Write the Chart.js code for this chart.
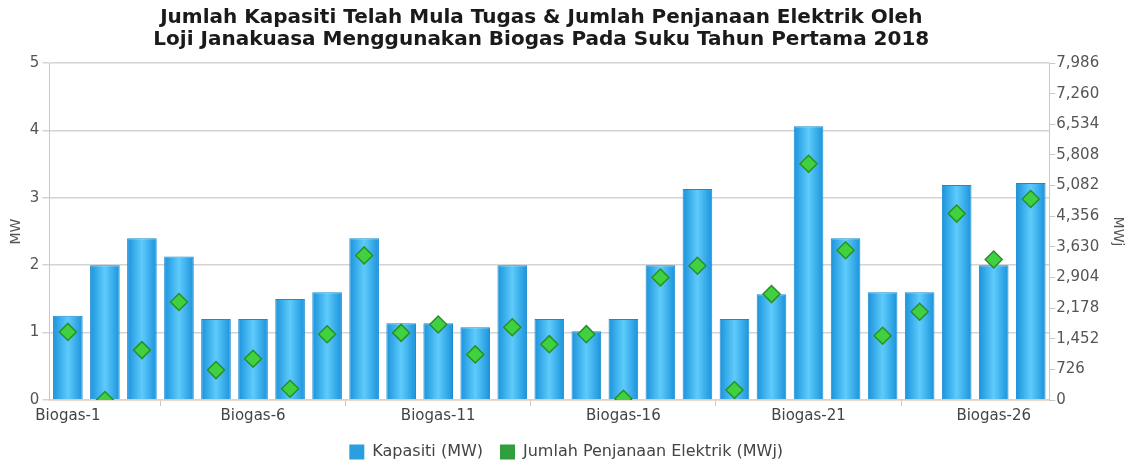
<!DOCTYPE html>
<html>
<head>
<meta charset="utf-8">
<script src="https://cdn.jsdelivr.net/npm/chart.js@4/dist/chart.umd.min.js"></script>
<style>
html,body{margin:0;padding:0;background:#fff;}
#wrap{width:1125px;height:462px;position:relative;}
</style>
</head>
<body>
<div id="wrap"><canvas id="c" width="1125" height="462"></canvas></div>
<script>
const categories = Array.from({length:27},(_,i)=>'Biogas-'+(i+1));
const kapasitiMW = [1.25,2.0,2.4,2.13,1.2,1.2,1.5,1.6,2.4,1.14,1.14,1.08,2.0,1.2,1.02,1.2,2.0,3.13,1.2,1.57,4.06,2.4,1.6,1.6,3.19,2.0,3.22];
const penjanaanMWj = [1613,0,1182,2322,709,976,268,1559,3426,1590,1788,1080,1725,1323,1560,30,2902,3180,238,2510,5600,3548,1522,2090,4418,3329,4762];
const leftTicks = [0,1,2,3,4,5];
const rightTicks = [0,726,1452,2178,2904,3630,4356,5082,5808,6534,7260,7986];
const titleLines = ['Jumlah Kapasiti Telah Mula Tugas & Jumlah Penjanaan Elektrik Oleh','Loji Janakuasa Menggunakan Biogas Pada Suku Tahun Pertama 2018'];

const FONT = "'DejaVu Sans', Verdana, sans-serif";

function barGradient(ctx){
  const chart = ctx.chart;
  const xs = chart.scales && chart.scales.x;
  if(!xs || ctx.dataIndex == null) return '#29a6ea';
  const cx = xs.getPixelForValue(ctx.dataIndex);
  const w = (xs.width / categories.length) * 0.8;
  const g = chart.ctx.createLinearGradient(cx - w/2, 0, cx + w/2, 0);
  g.addColorStop(0, '#1a93dc');
  g.addColorStop(0.5, '#5ecbfb');
  g.addColorStop(1, '#1a93dc');
  return g;
}

const shiftTitle = {
  id: 'shiftTitle',
  afterLayout(chart){
    const t = chart.titleBlock;
    if (t) { t.left -= 8; t.right -= 8; }
  }
};

new Chart(document.getElementById('c'), {
  plugins: [shiftTitle],
  data: {
    labels: categories,
    datasets: [
      {
        type: 'line',
        label: 'Jumlah Penjanaan Elektrik (MWj)',
        data: penjanaanMWj,
        yAxisID: 'y1',
        showLine: false,
        pointStyle: 'rectRot',
        pointRadius: 8.5,
        pointBackgroundColor: '#3fd13f',
        pointBorderColor: '#2a8f2a',
        pointBorderWidth: 1.5,
        backgroundColor: '#2e9e3e',
        borderColor: '#2e9e3e',
        order: 0
      },
      {
        type: 'bar',
        label: 'Kapasiti (MW)',
        data: kapasitiMW,
        yAxisID: 'y',
        backgroundColor: barGradient,
        borderColor: '#1a8ad0',
        borderWidth: 1,
        barPercentage: 0.8,
        categoryPercentage: 1.0,
        order: 1
      }
    ]
  },
  options: {
    responsive: false,
    animation: false,
    layout: { padding: { left: 6, right: -1.4, top: 0, bottom: -8 } },
    plugins: {
      title: {
        display: true,
        fullSize: false,
        text: titleLines,
        color: '#1a1a1a',
        font: { family: FONT, size: 20, weight: 'bold', lineHeight: 1.1 },
        padding: { top: 7, bottom: 12 }
      },
      legend: {
        position: 'bottom',
        labels: {
          color: '#444',
          font: { family: FONT, size: 16 },
          boxWidth: 15,
          boxHeight: 15,
          padding: 17,
          generateLabels(chart){
            return [
              {text:'Kapasiti (MW)', fillStyle:'#2a9fe0', strokeStyle:'#2a9fe0', lineWidth:0, datasetIndex:1, fontColor:'#444'},
              {text:'Jumlah Penjanaan Elektrik (MWj)', fillStyle:'#2e9e3e', strokeStyle:'#2e9e3e', lineWidth:0, datasetIndex:0, fontColor:'#444'}
            ];
          }
        }
      },
      tooltip: { enabled: false }
    },
    scales: {
      x: {
        offset: true,
        afterFit: (s) => { s.height = 27; },
        grid: {
          offset: true,
          drawOnChartArea: false,
          drawTicks: true,
          tickLength: 6,
          color: (c) => (c.index % 5 === 3 ? '#c8c8c8' : 'rgba(0,0,0,0)')
        },
        border: { display: true, color: '#f0d8c8' },
        ticks: {
          autoSkip: false,
          maxRotation: 0,
          color: '#444',
          font: { family: FONT, size: 15 },
          padding: 1,
          callback: (v, i) => (i % 5 === 0 ? categories[i] : '')
        }
      },
      y: {
        position: 'left',
        min: 0,
        max: 5,
        afterBuildTicks: (s) => { s.ticks = leftTicks.map(v => ({value: v})); },
        grid: { color: '#d4d4d4', lineWidth: 1.5, tickLength: 7 },
        border: { color: '#c8c8c8' },
        ticks: { color: '#555', font: { family: FONT, size: 15 }, padding: 3 },
        title: { display: true, text: 'MW', color: '#555', font: { family: FONT, size: 14 }, padding: 2 }
      },
      y1: {
        position: 'right',
        min: 0,
        max: 7986,
        afterBuildTicks: (s) => { s.ticks = rightTicks.map(v => ({value: v})); },
        grid: { drawOnChartArea: false, color: '#c8c8c8', tickLength: 6 },
        border: { color: '#c8c8c8' },
        ticks: {
          color: '#555',
          font: { family: FONT, size: 15 },
          padding: 1,
          callback: (v) => v.toLocaleString('en-US')
        },
        title: { display: true, text: 'MWj', color: '#555', font: { family: FONT, size: 14 }, padding: { top: 0, bottom: 9.4 } }
      }
    }
  }
});
</script>
</body>
</html>
